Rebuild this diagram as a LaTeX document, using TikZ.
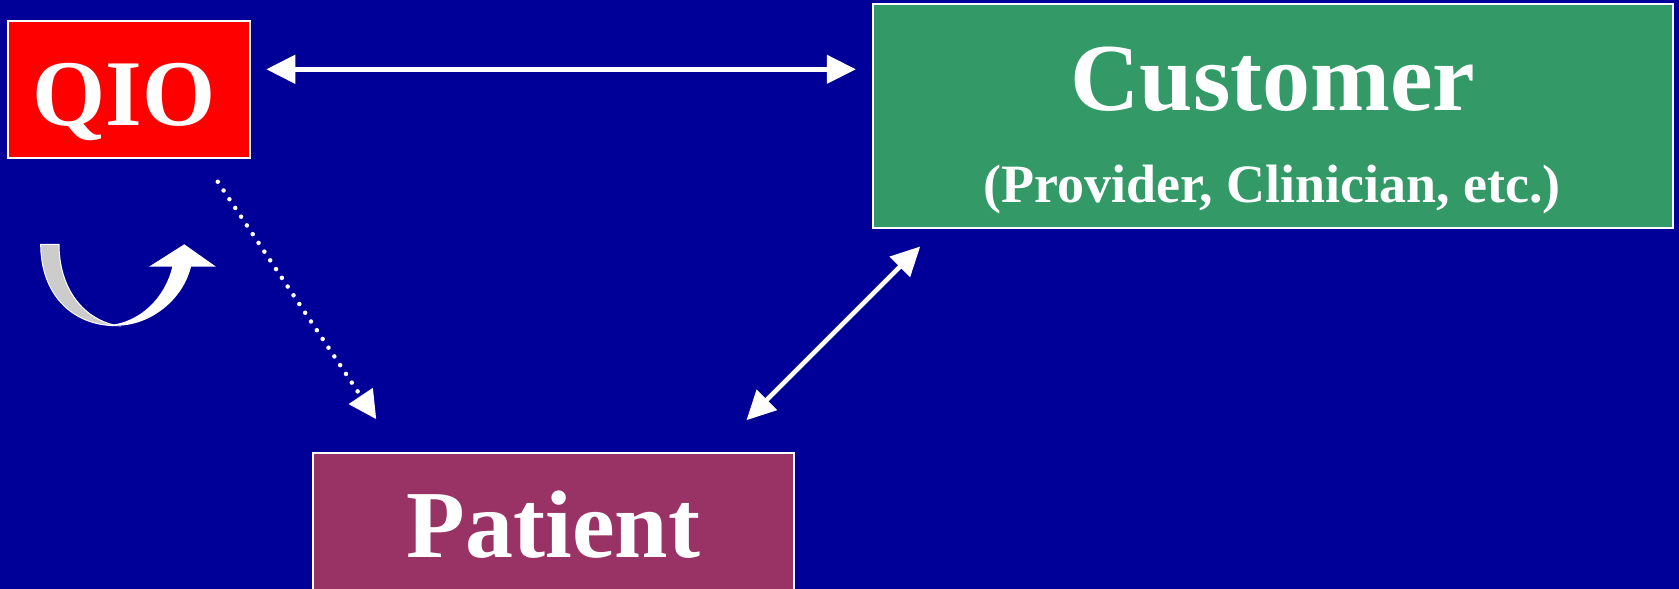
\documentclass[tikz,border=0pt]{standalone}
\usepackage{fontspec}
\setmainfont{Liberation Serif}
\usepackage{tikz}
\usetikzlibrary{arrows.meta}
\definecolor{slidebg}{HTML}{000099}
\definecolor{qiored}{HTML}{FF0000}
\definecolor{custgreen}{HTML}{339966}
\definecolor{patientplum}{HTML}{993366}

\begin{document}
\begin{tikzpicture}[x=1pt, y=-1pt,
    box/.style={draw=white, line width=1.5pt, rectangle, text=white, inner sep=0pt, font=\bfseries\fontsize{96}{96}\selectfont},
    link/.style={white, line width=4.6pt, {Triangle[length=29pt,width=28pt]}-{Triangle[length=29pt,width=28pt]}},
    dotlink/.style={white, line width=4.5pt, line cap=round, dash pattern=on 0pt off 10.5pt, -{Triangle[length=28pt,width=28pt]}}]
          \fill[slidebg] (0,0) rectangle (1679,589);
          \useasboundingbox (0,0) rectangle (1679,589);
          \node[box, fill=qiored, minimum width=242pt, minimum height=137pt, text height=71pt, text depth=0pt, font=\bfseries\fontsize{94}{94}\selectfont] (qio) at (129,89.5) {QIO\hspace*{10pt}};
          \node[box, fill=custgreen, minimum width=800pt, minimum height=224pt, text height=60pt, text depth=72pt] (customer) at (1273,116) {Customer};
          \node[text=white, font=\bfseries\fontsize{54}{54}\selectfont, anchor=base] (custnote) at (1272,202) {(Provider, Clinician, etc.)};
          \node[box, fill=patientplum, minimum width=481pt, minimum height=143pt, text height=66pt, text depth=0pt] (patient) at (553.5,524.5) {Patient};
          \draw[link] ([xshift=15.5pt,yshift=20.2pt]qio.east) -- ([xshift=-16.4pt,yshift=46.7pt]customer.west);
          \draw[link] ([xshift=-48.3pt,yshift=32pt]patient.north east) -- ([xshift=48pt,yshift=-17.7pt]customer.south west);
          \draw[dotlink] ([xshift=-33pt,yshift=-23pt]qio.south east) -- ([xshift=64pt,yshift=33pt]patient.north west);
          \filldraw[fill=black!20, draw=white, line width=1pt] (40.7,244.3) .. controls (40.7,292) and (70,325.7) .. (116.7,325.7) .. controls (80,318) and (59,285) .. (59,244.3) -- cycle;
          \fill[white] (116.7,325.7) .. controls (150,325.7) and (183,300) .. (191,266.7) -- (216,266.7) -- (184.3,244.3) -- (149,266.7) -- (172.3,266.7) .. controls (165,298) and (140,322) .. (110,325) -- cycle;
        \end{tikzpicture}
\end{document}
